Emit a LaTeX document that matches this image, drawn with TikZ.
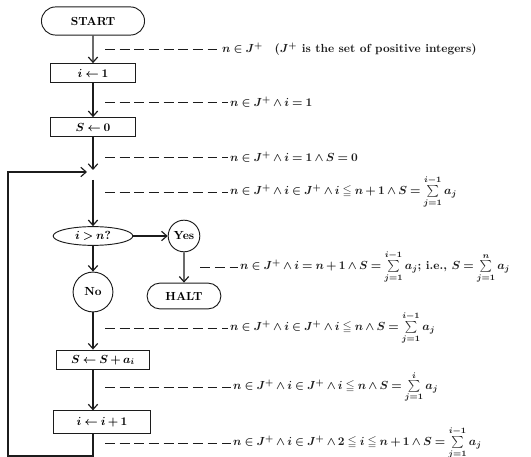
\documentclass[tikz,border=0pt]{standalone}
\usepackage{amsmath}
\usepackage{amssymb}
\usepackage{xcolor}
\usepackage{tikz}
\usetikzlibrary{arrows.meta,calc,shapes.misc,shapes.geometric}
\definecolor{ink}{HTML}{1C1C1C}
\medmuskip=3mu plus 2mu minus 3mu
\thickmuskip=4mu plus 3mu minus 1mu
\tikzset{
  stepbox/.style={draw=ink,line width=0.8pt,minimum height=16pt,inner sep=2pt},
  term/.style={draw=ink,line width=0.8pt,rounded rectangle,inner sep=2pt},
  test/.style={draw=ink,line width=0.8pt,ellipse,inner sep=1pt},
  answer/.style={draw=ink,line width=0.8pt,circle,inner sep=1pt},
  flow/.style={draw=ink,line width=1pt,-{Straight Barb[length=4.5pt,width=8pt]}},
  dashline/.style={draw=ink,line width=0.7pt,dash pattern=on 8.5pt off 4pt},
  claim/.style={anchor=west,inner sep=0pt,text=ink}
}

\begin{document}
\begin{tikzpicture}[x=0.03cm,y=-0.03cm,font=\bfseries\boldmath]
\useasboundingbox (0,0) rectangle (531,457);
% the chart
\node[term,minimum width=92pt,minimum height=24pt] (start) at (93,21) {START};
\node[stepbox,minimum width=72pt] (one) at (93,73) {$i\leftarrow 1$};
\node[stepbox,minimum width=72pt] (zero) at (93,127) {$S\leftarrow 0$};
\coordinate (join) at (93,170); \coordinate (rejoin) at (93,180); \coordinate (loopend) at (87,172);
\node[test,minimum width=68pt,minimum height=16pt] (test) at (93,236) {$i>n?$};
\node[answer,minimum size=27pt] (yes) at (184,236) {Yes};
\node[term,minimum width=67pt,minimum height=22pt] (halt) at (184,296) {HALT};
\node[answer,minimum size=34pt] (no) at (93,292) {No};
\node[stepbox,minimum width=79pt,minimum height=17pt] (sum) at (103,360) {$S\leftarrow S+a_i$};
\node[stepbox,minimum width=83pt,minimum height=19pt] (inc) at (102,422) {$i\leftarrow i+1$};
\coordinate (corner) at (8,456);
\draw[flow] (start) -- (one); \draw[flow] (one) -- (zero); \draw[flow] (zero) -- (join);
\draw[flow] (rejoin) -- (test); \draw[flow] (test) -- (yes); \draw[flow] (yes) -- (halt); \draw[flow] (test) -- (no);
\draw[flow] (no) -- (sum.north -| no); \draw[flow] (sum.south -| no) -- (inc.north -| no);
\draw[flow] (inc.south -| no) |- (corner) |- (loopend);
% assertions
\node[claim] (c1) at (222,49) {$n\in J^+$\quad($J^+$ is the set of positive integers)};
\node[claim] (c2) at (230,102) {$n\in J^+\wedge i=1$};
\node[claim] (c3) at (230,157) {$n\in J^+\wedge i=1\wedge S=0$};
\node[claim] (c4) at (230,192) {$n\in J^+\wedge i\in J^+\wedge i\leqq n+1\wedge S=\sum\limits_{j=1}^{i-1}a_j$};
\node[claim] (c5) at (240,267) {$n\in J^+\wedge i=n+1\wedge S=\sum\limits_{j=1}^{i-1}a_j$; i.e., $S=\sum\limits_{j=1}^{n}a_j$};
\node[claim] (c6) at (230,328) {$n\in J^+\wedge i\in J^+\wedge i\leqq n\wedge S=\sum\limits_{j=1}^{i-1}a_j$};
\node[claim] (c7) at (233,387) {$n\in J^+\wedge i\in J^+\wedge i\leqq n\wedge S=\sum\limits_{j=1}^{i}a_j$};
\node[claim] (c8) at (233,443) {$n\in J^+\wedge i\in J^+\wedge 2\leqq i\leqq n+1\wedge S=\sum\limits_{j=1}^{i-1}a_j$};
\coordinate (tick) at (105,0);
\draw[dashline] (tick |- c1.west) -- ([xshift=-2pt]c1.west); \draw[dashline] (tick |- c2.west) -- ([xshift=-2pt]c2.west);
\draw[dashline] (tick |- c3.west) -- ([xshift=-2pt]c3.west); \draw[dashline] (tick |- c4.west) -- ([xshift=-2pt]c4.west);
\draw[dashline] (yes.east |- c5.west) -- ([xshift=-2pt]c5.west); \draw[dashline] (tick |- c6.west) -- ([xshift=-2pt]c6.west);
\draw[dashline] (tick |- c7.west) -- ([xshift=-2pt]c7.west); \draw[dashline] (tick |- c8.west) -- ([xshift=-2pt]c8.west);
\end{tikzpicture}
\end{document}
